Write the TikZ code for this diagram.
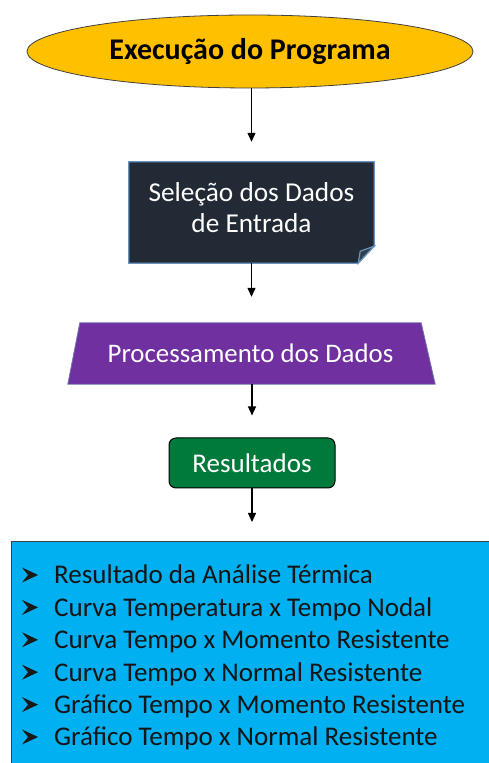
\documentclass[tikz,border=0pt]{standalone}
\usepackage{fontspec}
\setmainfont{Carlito}
\usetikzlibrary{shapes.geometric,arrows.meta,calc,backgrounds}
\definecolor{gold}{HTML}{FFC000}
\definecolor{darkbox}{HTML}{222A35}
\definecolor{lightedge}{HTML}{6A94BE}
\definecolor{purp}{HTML}{7030A0}
\definecolor{greenbox}{HTML}{007A3A}
\definecolor{cyanbox}{HTML}{00B0F0}
\begin{document}
\begin{tikzpicture}[x=1pt,y=1pt,
  arr/.style={-{Triangle[length=9pt,width=8pt]}, line width=1.2pt, black},
  listline/.style={anchor=base west, inner sep=0, font=\fontsize{27}{32}\selectfont, text=black!92},
  bulletmark/.style={fill=black!90}
]
\useasboundingbox (0,0) rectangle (489,763);
\begin{scope}[on background layer]
  \fill[white] (0,0) rectangle (489,763);
\end{scope}

% start ellipse
\node[ellipse, draw=black!75, line width=0.8pt, fill=gold, minimum width=446pt, minimum height=73pt,
  inner sep=0, font=\fontsize{30}{36}\selectfont\bfseries] (exec) at (250,711.5) {Execução do Programa};

% data selection (document with folded corner)
\node[minimum width=245pt, minimum height=101pt, inner sep=0] (sel) at (251.5,550.5) {};
\node[align=center, text=white, inner sep=0, font=\fontsize{27.3}{31}\selectfont]
  (seltxt) at ($(sel.center)+(0,5)$) {Seleção dos Dados\\de Entrada};
\begin{scope}[on background layer]
  \filldraw[fill=darkbox, draw=lightedge, line width=1.2pt]
    (sel.north west) -- (sel.north east) -- ($(sel.south east)+(0,17)$)
    -- ($(sel.south east)+(-16,0)$) -- (sel.south west) -- cycle;
  \filldraw[fill=darkbox!80!lightedge, draw=lightedge, line width=1.2pt]
    ($(sel.south east)+(-16,0)$) -- ($(sel.south east)+(-14,12)$) -- ($(sel.south east)+(0,17)$) -- cycle;
\end{scope}

% processing (trapezoid)
\node[minimum width=341pt, minimum height=61pt, inner sep=0, text=white,
  font=\fontsize{26.8}{32}\selectfont]
  (proc) at (250.5,409.5) {Processamento dos Dados};
\begin{scope}[on background layer]
  \filldraw[fill=purp, draw=lightedge!70!purp, line width=0.8pt]
    (proc.north west) -- (proc.north east) -- ($(proc.south east)+(14,0)$)
    -- ($(proc.south west)+(-12,0)$) -- cycle;
\end{scope}

% results
\node[draw=black, line width=1pt, fill=greenbox, rounded corners=7pt, minimum width=166pt,
  minimum height=50pt, inner sep=0, text=white, font=\fontsize{27}{32}\selectfont] (resu) at (252,300) {Resultados};

% result list box
\node[anchor=north west, fill=cyanbox, draw=black!75, line width=1pt, minimum width=490pt,
  minimum height=240pt, inner sep=0] (rbox) at (11,222) {};
\foreach \t [count=\i] in {Resultado da Análise Térmica, Curva Temperatura x Tempo Nodal,
  Curva Tempo x Momento Resistente, Curva Tempo x Normal Resistente,
  Gráfico Tempo x Momento Resistente, Gráfico Tempo x Normal Resistente}{
  \node[listline] (l\i) at (54,{179-32.4*(\i-1)}) {\t};
  \fill[bulletmark] ($(l\i.base west)+(-32,1.5)$) -- ($(l\i.base west)+(-16,9)$)
    -- ($(l\i.base west)+(-32,16.5)$) -- ($(l\i.base west)+(-26,9)$) -- cycle;
}

% connectors
\draw[arr, shorten >=20pt] (exec.south -| sel.north) -- (sel.north);
\draw[arr, shorten >=26pt] (sel.south) -- (sel.south |- proc.north);
\draw[arr, shorten >=22pt] (proc.south -| resu.north) -- (resu.north);
\draw[arr, shorten >=19pt] (resu.south) -- (resu.south |- rbox.north);
\end{tikzpicture}
\end{document}
